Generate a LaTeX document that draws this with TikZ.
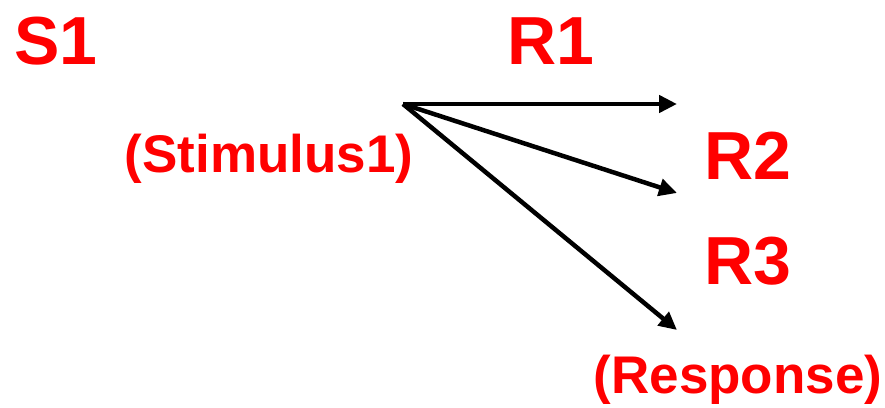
\documentclass[tikz,border=0pt]{standalone}
\usepackage{fontspec}
\setmainfont{Liberation Sans}
\usepackage{tikz}
\usetikzlibrary{arrows.meta,positioning}
\definecolor{srred}{RGB}{255,0,0}

\tikzset{
  biglabel/.style={text=srred,font=\bfseries\fontsize{68}{72}\selectfont,anchor=base,inner sep=0pt},
  smalllabel/.style={text=srred,font=\bfseries\fontsize{53}{58}\selectfont,anchor=base,inner sep=0pt},
  srarrow/.style={-{Triangle[length=18pt,width=17pt]},line width=4.5pt,color=black}
}

\begin{document}
\begin{tikzpicture}[x=1pt,y=-1pt]
    \useasboundingbox (0,0) rectangle (885,407);
    % stimulus side
    \node[biglabel] (s1) at (56,64) {S1};
    \node[smalllabel] (stim) at (269,172) {(Stimulus1)};
    % responses
    \node[biglabel] (r1) at (551,64) {R1};
    \node[biglabel] (r2) at (748,179) {R2};
    \node[biglabel] (r3) at (748,284) {R3};
    \node[smalllabel] (resp) at (738,393) {(Response)};
    % arrows
    \coordinate (src) at (403,104);
    \coordinate (r1in) at (677,104);
    \coordinate (r2in) at (677,193);
    \coordinate (r3in) at (677,330);
    \draw[srarrow] (src) -- (r1in);
    \draw[srarrow] (src) -- (r2in);
    \draw[srarrow] (src) -- (r3in);
\end{tikzpicture}
\end{document}
